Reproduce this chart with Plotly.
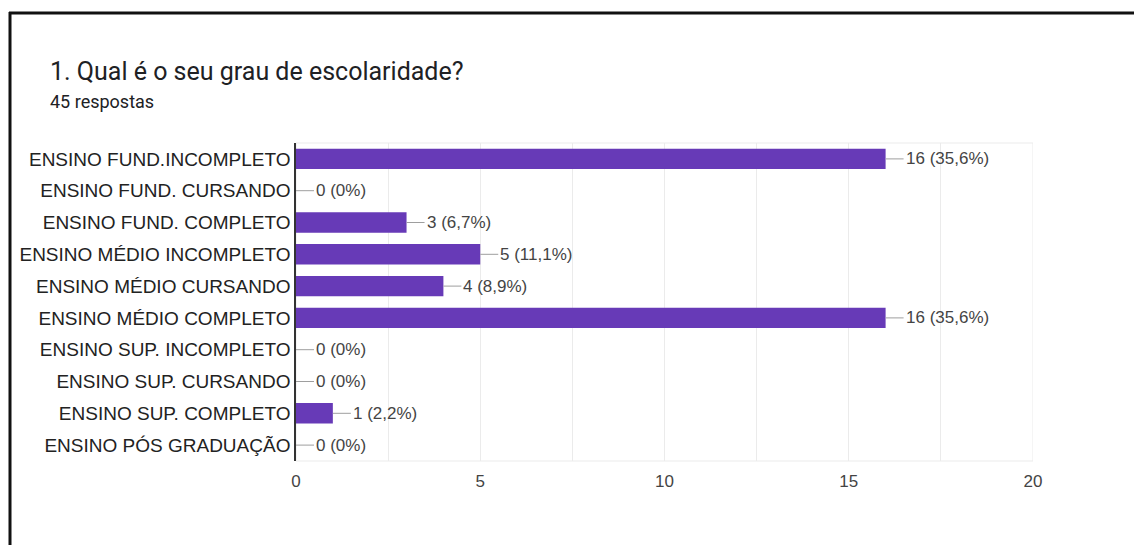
import plotly.graph_objects as go

categories = [
    "ENSINO FUND.INCOMPLETO",
    "ENSINO FUND. CURSANDO",
    "ENSINO FUND. COMPLETO",
    "ENSINO MÉDIO INCOMPLETO",
    "ENSINO MÉDIO CURSANDO",
    "ENSINO MÉDIO COMPLETO",
    "ENSINO SUP. INCOMPLETO",
    "ENSINO SUP. CURSANDO",
    "ENSINO SUP. COMPLETO",
    "ENSINO PÓS GRADUAÇÃO",
]
counts = [16, 0, 3, 5, 4, 16, 0, 0, 1, 0]
total_responses = 45
x_ticks = [0, 5, 10, 15, 20]

title_text = "1. Qual é o seu grau de escolaridade?"
subtitle_text = f"{total_responses} respostas"

W, H = 1134, 545
L, R, T, B = 296, 1033, 143, 461  # plot area in pixels


def px_x(p):
    return (p - L) / (R - L)


def px_y(p):
    return 1 - (p - T) / (B - T)


def pct_label(v):
    p = v / total_responses * 100
    if v == 0:
        return "0 (0%)"
    return f"{v} ({p:.1f}%)".replace(".", ",")


fig = go.Figure(
    go.Bar(
        x=counts,
        y=categories,
        orientation="h",
        marker=dict(color="#673ab7", line=dict(width=0)),
        hoverinfo="skip",
    )
)

annotations = []
for c, v in zip(categories, counts):
    annotations.append(
        dict(
            x=v, y=c, xref="x", yref="y",
            text=pct_label(v),
            showarrow=True, arrowhead=0, arrowwidth=1, arrowcolor="#9e9e9e",
            ax=18, ay=0, xanchor="left", standoff=0, startstandoff=0,
            font=dict(family="Liberation Sans, Arial", size=17, color="#444444"),
        )
    )

annotations.append(
    dict(
        x=px_x(48), y=px_y(72), xref="paper", yref="paper",
        text=title_text, showarrow=False, xanchor="left", yanchor="middle",
        font=dict(family="Roboto", size=25, color="#202124"),
    )
)
annotations.append(
    dict(
        x=px_x(48), y=px_y(101), xref="paper", yref="paper",
        text=subtitle_text, showarrow=False, xanchor="left", yanchor="middle",
        font=dict(family="Roboto", size=18, color="#202124"),
    )
)

shapes = [
    # light grid frame
    dict(type="rect", xref="x", yref="paper", x0=0, x1=20, y0=0, y1=1,
         line=dict(color="#ebebeb", width=1), layer="below"),
    # dark outer frame (top and left)
    dict(type="line", xref="paper", yref="paper",
         x0=px_x(9), x1=px_x(1140), y0=px_y(13), y1=px_y(13),
         line=dict(color="#111111", width=3)),
    dict(type="line", xref="paper", yref="paper",
         x0=px_x(10), x1=px_x(10), y0=px_y(12), y1=px_y(550),
         line=dict(color="#111111", width=3)),
]

fig.update_layout(
    width=W, height=H,
    margin=dict(l=L, r=W - R, t=T, b=H - B, pad=0, autoexpand=False),
    paper_bgcolor="white", plot_bgcolor="white",
    showlegend=False,
    bargap=0.36,
    annotations=annotations,
    shapes=shapes,
    font=dict(family="Liberation Sans, Arial", color="#222222"),
)

fig.update_xaxes(
    range=[0, 20],
    tickvals=x_ticks,
    ticktext=[str(t) for t in x_ticks],
    showgrid=True, gridcolor="#ebebeb", gridwidth=1,
    minor=dict(dtick=2.5, tick0=0, showgrid=True, gridcolor="#ebebeb"),
    zeroline=False, showline=False,
    ticks="", ticklabelstandoff=8,
    tickfont=dict(family="Liberation Sans, Arial", size=17, color="#444444"),
    automargin=False,
    fixedrange=True,
)
fig.update_yaxes(
    categoryorder="array", categoryarray=categories,
    autorange="reversed",
    showgrid=False, zeroline=False,
    showline=True, linecolor="#333333", linewidth=1.5,
    ticks="", ticklabelstandoff=0,
    tickfont=dict(family="Liberation Sans, Arial", size=19, color="#222222"),
    automargin=False,
    fixedrange=True,
)

fig.write_html("out.html", config={"displayModeBar": False})
